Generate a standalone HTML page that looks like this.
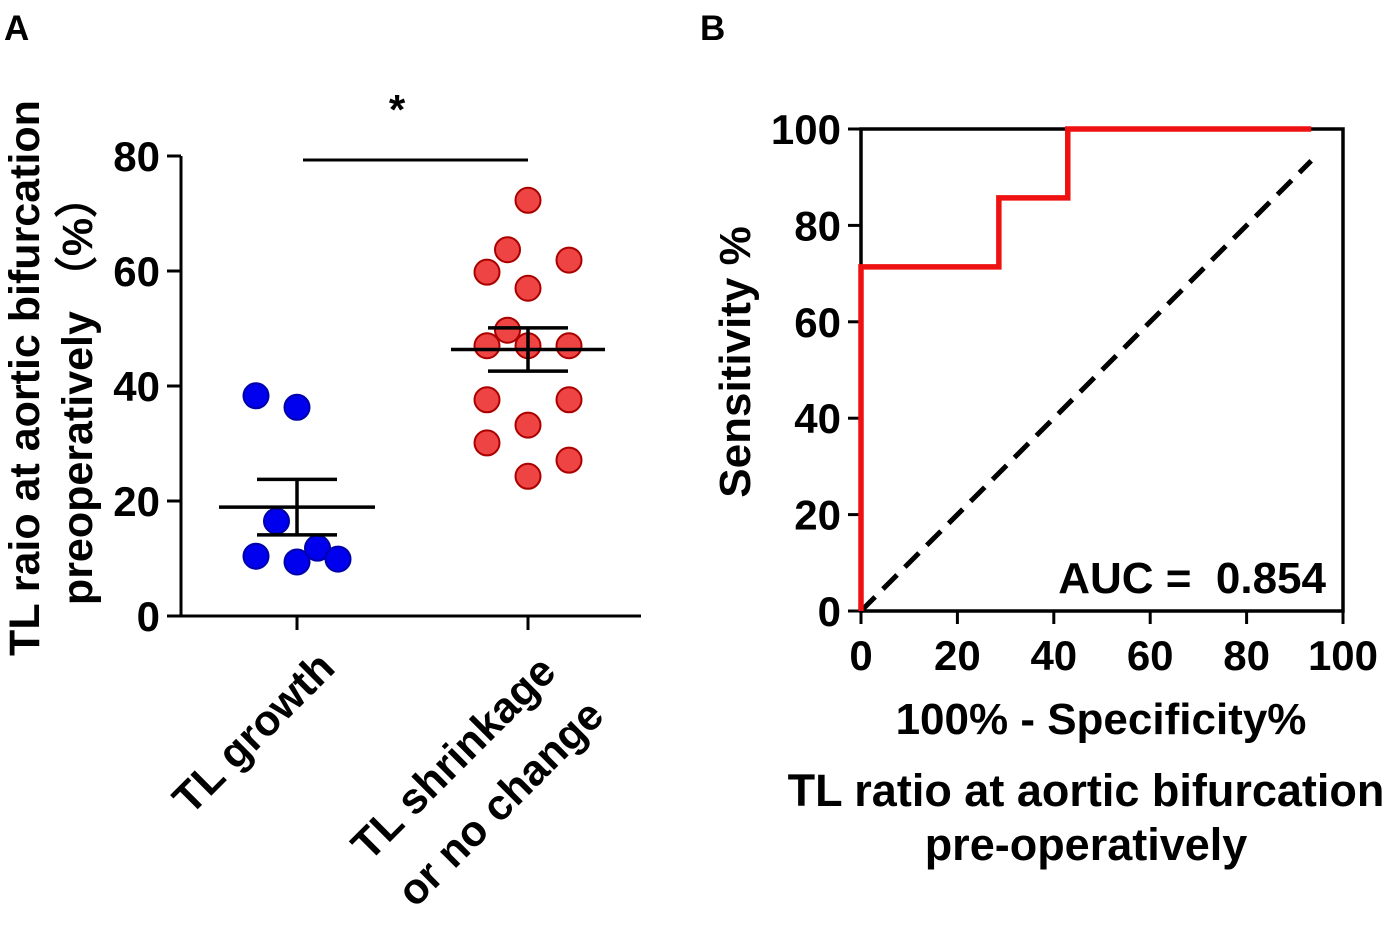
<!DOCTYPE html>
<html><head><meta charset="utf-8"><style>
body{margin:0;background:#fff}
svg{display:block;font-family:"Liberation Sans",Arial,sans-serif;font-weight:bold}
</style></head><body>
<svg id="fig" width="1400" height="926" viewBox="0 0 1400 926">
<g id="pa"></g>
<g id="pb"></g>
</svg>
<script>
const NS='http://www.w3.org/2000/svg';
// Panel A data
const groupNames=['TL growth','TL shrinkage or no change'];
const growthVals=[38.3,36.3,16.5,10.4,9.4,11.8,9.9];
const growthOffsets=[-2,0,-1,-2,0,1,2];
const shrinkVals=[72.3,63.7,59.8,61.9,57,47,47,47,49.7,37.6,37.6,33.2,30.1,27.1,24.3];
const shrinkOffsets=[0,-1,-2,2,0,-2,0,2,-1,-2,2,0,-2,2,0];
const aTicks=[0,20,40,60,80];
// Panel B data
const rocX=[0,0,28.6,28.6,42.9,42.9,93.4];
const rocY=[0,71.4,71.4,85.7,85.7,100,100];
const bTicks=[0,20,40,60,80,100];
const diagEnd=93.4;

function mk(parent,tag,attrs,text){const e=document.createElementNS(NS,tag);for(const k in attrs)e.setAttribute(k,attrs[k]);if(text!==undefined)e.textContent=text;parent.appendChild(e);return e;}

// ---- Panel A
const pa=document.getElementById('pa');
const ay=v=>616-v*5.75;
const ax=i=>[297,528][i];
const stepX=20.5;
const t0=mk(pa,'text',{x:4,y:40,'font-size':35},'A');


let l=mk(pa,'line',{x1:181,y1:ay(80),x2:181,y2:616,stroke:'#000','stroke-width':3});


l=mk(pa,'line',{x1:181,y1:616,x2:641,y2:616,stroke:'#000','stroke-width':3});


aTicks.forEach(v=>{
  const tk=mk(pa,'line',{x1:167,y1:ay(v),x2:181,y2:ay(v),stroke:'#000','stroke-width':3});
  
  
  const tl=mk(pa,'text',{x:160,y:ay(v)+15,'font-size':42,'text-anchor':'end'},String(v));
  
  
});
[0,1].forEach(i=>{
  const tk=mk(pa,'line',{x1:ax(i),y1:616,x2:ax(i),y2:630,stroke:'#000','stroke-width':3});
  
  
});
let c=mk(pa,'text',{transform:'translate(337,670) rotate(-45)','font-size':43,'text-anchor':'end'},groupNames[0]);


c=mk(pa,'text',{transform:'translate(558,674) rotate(-45)','font-size':43,'text-anchor':'end'},'TL shrinkage');


c=mk(pa,'text',{transform:'translate(606,718) rotate(-45)','font-size':43,'text-anchor':'end'},'or no change');


c=mk(pa,'text',{transform:'translate(39,378) rotate(-90)','font-size':43,'text-anchor':'middle'},'TL raio at aortic bifurcation');


c=mk(pa,'text',{transform:'translate(92,390) rotate(-90)','font-size':43,'text-anchor':'middle'},'preoperatively （%）');


function group(vals,offs,i,fill,stroke,half){
  vals.forEach((v,k)=>{
    const p=mk(pa,'circle',{cx:ax(i)+offs[k]*stepX,cy:ay(v),r:12.5,fill:fill,stroke:stroke,'stroke-width':2});
    
    
  });
  const n=vals.length,m=vals.reduce((a,b)=>a+b,0)/n;
  const sd=Math.sqrt(vals.reduce((a,b)=>a+(b-m)*(b-m),0)/(n-1)),se=sd/Math.sqrt(n);
  let e=mk(pa,'line',{x1:ax(i)-half,y1:ay(m),x2:ax(i)+half,y2:ay(m),stroke:'#000','stroke-width':3.5});
  
  
  e=mk(pa,'line',{x1:ax(i),y1:ay(m+se),x2:ax(i),y2:ay(m-se),stroke:'#000','stroke-width':3.5});
  
  
  [m+se,m-se].forEach(v=>{
    const cap=mk(pa,'line',{x1:ax(i)-40,y1:ay(v),x2:ax(i)+40,y2:ay(v),stroke:'#000','stroke-width':3.5});
    
    
  });
}
group(growthVals,growthOffsets,0,'#0000ee','#0000aa',78);
group(shrinkVals,shrinkOffsets,1,'#ee4444','#aa0000',77);
l=mk(pa,'line',{x1:303,y1:160,x2:528,y2:160,stroke:'#000','stroke-width':3});


c=mk(pa,'text',{x:397,y:124,'font-size':42,'text-anchor':'middle'},'*');



// ---- Panel B
const pb=document.getElementById('pb');
const bx=v=>861+v*4.82;
const by=v=>611-v*4.82;
c=mk(pb,'text',{x:700,y:40,'font-size':35},'B');


const box=mk(pb,'path',{d:`M${bx(0)},${by(0)}V${by(100)}H${bx(100)}V${by(0)}Z`,fill:'none',stroke:'#000','stroke-width':3.5});


bTicks.forEach(v=>{
  let t=mk(pb,'line',{x1:bx(0)-13,y1:by(v),x2:bx(0),y2:by(v),stroke:'#000','stroke-width':3});
  
  
  t=mk(pb,'text',{x:841,y:by(v)+15,'font-size':42,'text-anchor':'end'},String(v));
  
  
  t=mk(pb,'line',{x1:bx(v),y1:by(0),x2:bx(v),y2:by(0)+13,stroke:'#000','stroke-width':3});
  
  
  t=mk(pb,'text',{x:bx(v),y:670,'font-size':42,'text-anchor':'middle'},String(v));
  
  
});
const dg=mk(pb,'line',{x1:bx(0),y1:by(0),x2:bx(diagEnd),y2:by(diagEnd),stroke:'#000','stroke-width':5,'stroke-dasharray':'20,11'});


const roc=mk(pb,'polyline',{points:rocX.map((x,i)=>bx(x)+','+by(rocY[i])).join(' '),fill:'none',stroke:'#ee1111','stroke-width':5.5});


c=mk(pb,'text',{x:1326,y:593,'font-size':44,'text-anchor':'end'},'AUC =\u00a0 0.854');


c=mk(pb,'text',{transform:'translate(750,362) rotate(-90)','font-size':44,'text-anchor':'middle'},'Sensitivity %');


c=mk(pb,'text',{x:1101,y:734,'font-size':44,'text-anchor':'middle'},'100% - Specificity%');


c=mk(pb,'text',{x:1086,y:806,'font-size':45,'text-anchor':'middle'},'TL ratio at aortic bifurcation');


c=mk(pb,'text',{x:1086,y:860,'font-size':45,'text-anchor':'middle'},'pre-operatively');


</script>
</body></html>
